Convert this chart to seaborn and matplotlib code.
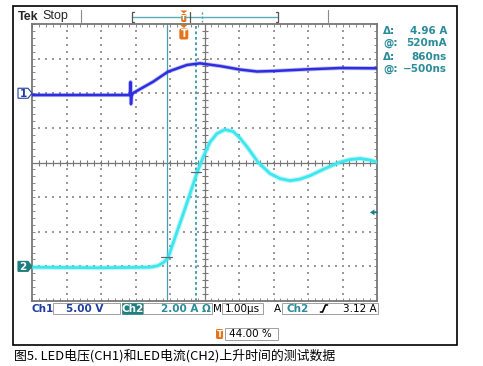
import numpy as np
import pandas as pd
import matplotlib
matplotlib.use("Agg")
import matplotlib.pyplot as plt
import seaborn as sns
from matplotlib.patches import Rectangle, Polygon, FancyBboxPatch

# ---------------- data ----------------
# CH1: LED voltage (V) vs time relative to trigger (us)
time_ch1_us = [-4.40, -1.56, -1.545, -1.53, -1.515, -1.47, -0.89, -0.46, 0.09,
               0.47, 1.05, 1.63, 2.12, 2.59, 3.57, 4.53, 5.60]
ch1_volts = [-0.26, -0.26, 1.62, -1.56, -0.40, 0.03, 1.66, 3.11, 4.08,
             4.32, 3.93, 3.42, 3.14, 3.21, 3.45, 3.64, 3.60]

# CH2: LED current (A) vs time relative to trigger (us)
time_ch2_us = [-4.40, -2.43, -0.98, -0.75, -0.60, -0.46, -0.26, 0.04, 0.38,
               0.56, 0.76, 0.96, 1.19, 1.43, 1.63, 1.86, 2.15, 2.50, 2.79,
               3.08, 3.37, 3.66, 4.09, 4.53, 4.82, 5.11, 5.40, 5.60]
ch2_amps = [-0.05, -0.08, -0.05, 0.04, 0.21, 0.47, 1.63, 3.36, 5.39,
            6.31, 7.18, 7.67, 7.90, 7.79, 7.41, 6.83, 6.02, 5.36, 5.07,
            4.95, 5.04, 5.24, 5.65, 6.02, 6.17, 6.23, 6.14, 6.02]

cursor_time_us = [-0.50, 0.36]
cursor_amps = [0.52, 5.48]
readout_labels = ["Δ:", "@:", "Δ:", "@:"]
readout_values = ["4.96 A", "520mA", "860ns", "−500ns"]

ch1_scale_v = 5.0      # V/div
ch1_position = 2.0     # div
ch2_scale_a = 2.0      # A/div
ch2_position = -3.0    # div
time_scale_us = 1.0    # us/div
trigger_position = 4.4 # div from left (44 %)
trigger_level_a = 3.12

status_ch1 = "5.00 V"
status_ch2 = "2.00 A Ω"
status_time = "1.00µs"
status_trig = "3.12 A"
status_pos = "44.00 %"
caption = "图5. LED电压(CH1)和LED电流(CH2)上升时间的测试数据"

# ---------------- styling ----------------
sns.set_theme(style="white")
plt.rcParams["font.family"] = ["DejaVu Sans", "Noto Sans CJK SC"]

BLUE = "#2e2ee0"
CYAN = "#3ee6ee"
TEAL = "#2a8c99"
TEALD = "#1f7f80"
CURS = "#45a0ae"
ORANGE = "#e8741a"
DBLUE = "#1f3fa0"
GRID = "#8a8a8a"

W, H = 483, 366
fig = plt.figure(figsize=(W / 100, H / 100), dpi=100)
fig.patch.set_facecolor("white")

L, R, T, B = 32, 377, 24, 301
ax = fig.add_axes([L / W, 1 - B / H, (R - L) / W, (B - T) / H])
ax.set_facecolor("white")

def tdiv(t):
    return np.asarray(t) / time_scale_us + trigger_position

def c1div(v):
    return np.asarray(v) / ch1_scale_v + ch1_position

def c2div(a):
    return np.asarray(a) / ch2_scale_a + ch2_position

# graticule
minor = np.arange(0.2, 10.0, 0.2)
minor_y = np.arange(-3.8, 4.0, 0.2)
for yl in [-3, -2, -1, 1, 2, 3]:
    ax.scatter(minor, np.full_like(minor, yl), s=0.8, marker="s", color="#9a9a9a", linewidths=0, zorder=1)
for xl in [1, 2, 3, 4, 6, 7, 8, 9]:
    ax.scatter(np.full_like(minor_y, xl), minor_y, s=0.8, marker="s", color="#9a9a9a", linewidths=0, zorder=1)
ax.axhline(0, color="#777777", lw=0.9, zorder=1)
ax.axvline(5, color="#777777", lw=0.9, zorder=1)
ax.plot(minor, np.zeros_like(minor), ls="none", marker="|", ms=4.5, mew=0.8, color="#777777", zorder=1)
ax.plot(np.full_like(minor_y, 5), minor_y, ls="none", marker="_", ms=4.5, mew=0.8, color="#777777", zorder=1)

# cursors
cx = tdiv(cursor_time_us)
cy = c2div(cursor_amps)
ax.axvline(cx[0], color=CURS, lw=0.9, zorder=2)
ax.axvline(cx[1], color=CURS, lw=1.4, ls=(0, (1.4, 1.4)), zorder=2)

# traces
df1 = pd.DataFrame({"x": tdiv(time_ch1_us), "y": c1div(ch1_volts)})
df2 = pd.DataFrame({"x": tdiv(time_ch2_us), "y": c2div(ch2_amps)})
sns.lineplot(data=df2, x="x", y="y", ax=ax, color=CYAN, lw=3.6, alpha=0.35, estimator=None, sort=False, zorder=3)
sns.lineplot(data=df2, x="x", y="y", ax=ax, color=CYAN, lw=2.0, estimator=None, sort=False, zorder=4)
sns.lineplot(data=df1, x="x", y="y", ax=ax, color=BLUE, lw=3.0, alpha=0.3, estimator=None, sort=False, zorder=3)
sns.lineplot(data=df1, x="x", y="y", ax=ax, color=BLUE, lw=1.8, estimator=None, sort=False, zorder=4)

for xx, yy in zip(cx, cy):
    ax.plot([xx - 0.15, xx + 0.15], [yy, yy], color="#5a6a70", lw=0.9, zorder=5)

ax.set_xlim(0, 10)
ax.set_ylim(-4, 4)
ax.set_xlabel("")
ax.set_ylabel("")
ax.set_xticks(np.arange(0, 10.01, 0.2))
ax.set_yticks(np.arange(-4, 4.01, 0.2))
ax.tick_params(direction="in", length=2.3, width=0.7, color=GRID, top=True, right=True,
               bottom=True, left=True, labelbottom=False, labelleft=False)
for s in ax.spines.values():
    s.set_color("#777777")
    s.set_linewidth(1.3)

# ---------------- overlay (screen annotations) ----------------
ov = fig.add_axes([0, 0, 1, 1], zorder=5)
ov.set_xlim(0, W)
ov.set_ylim(H, 0)
ov.axis("off")
ov.patch.set_alpha(0)

def px_x(d):
    return L + d * (R - L) / 10.0

def px_y(d):
    return (T + B) / 2 - d * (B - T) / 8.0

ov.add_patch(Rectangle((13, 6), 444, 339, fill=False, ec="black", lw=1.2))

# header
ov.text(18, 16.5, "Tek", fontsize=9, fontweight="bold", family="Liberation Sans", va="center", ha="left")
ov.text(42, 16, "Stop", fontsize=9, family="Liberation Sans", va="center", ha="left")
ov.plot([81, 81], [10, 22], color="#888888", lw=0.8)
ov.plot([328, 328], [10, 22], color="#888888", lw=0.8)
ov.plot([133, 277], [17, 17], color="#5aacb8", lw=1.0)
ov.plot([134, 132, 132, 134], [12, 12, 22, 22], color="#555555", lw=0.9)
ov.plot([276, 278, 278, 276], [12, 12, 22, 22], color="#555555", lw=0.9)
ov.plot([189.5, 189.5], [12, 22], color="#555555", lw=0.9)
ov.plot([202, 202], [12, 22], color=CURS, lw=1.0, ls=(0, (1.5, 1.5)))
tpx = px_x(trigger_position)
ov.add_patch(Polygon([[tpx - 3.5, 10.5], [tpx + 3.5, 10.5], [tpx, 13.5]], closed=True, color=ORANGE, lw=0))
ov.add_patch(FancyBboxPatch((tpx - 2.6, 14), 5.2, 8, boxstyle="round,pad=0,rounding_size=1.5", color=ORANGE, lw=0))
ov.text(tpx, 18.3, "T", fontsize=5, color="white", fontweight="bold", ha="center", va="center")

# trigger marker on the graticule
ov.add_patch(Polygon([[tpx - 3.5, 25], [tpx + 3.5, 25], [tpx, 28]], closed=True, color=ORANGE, lw=0))
ov.add_patch(FancyBboxPatch((tpx - 4.5, 28.5), 9, 11, boxstyle="round,pad=0,rounding_size=2", color=ORANGE, lw=0))
ov.text(tpx, 34.3, "T", fontsize=7, color="white", fontweight="bold", ha="center", va="center")

# readouts
for i, (lab, val) in enumerate(zip(readout_labels, readout_values)):
    yy = [31, 42.5, 56.5, 68.5][i]
    ov.text(383, yy, lab, fontsize=7.5, color=TEAL, fontweight="semibold", ha="left", va="center")
    ov.text(447, yy, val, fontsize=7.5, color=TEAL, fontweight="semibold", ha="right", va="center")

# channel ground markers
for d, filled in [(ch1_position, False), (ch2_position, True)]:
    yy = px_y(d)
    pts = [[18, yy - 5], [28, yy - 5], [32, yy], [28, yy + 5], [18, yy + 5]]
    if filled:
        ov.add_patch(Polygon(pts, closed=True, fc=TEALD, ec=TEALD, lw=0.8))
        ov.text(23, yy + 0.3, "2", fontsize=7.5, color="white", fontweight="bold", ha="center", va="center")
    else:
        ov.add_patch(Polygon(pts, closed=True, fc="white", ec=DBLUE, lw=0.8))
        ov.text(23, yy + 0.3, "1", fontsize=7.5, color=DBLUE, fontweight="bold", ha="center", va="center")

# trigger level arrow
ty = px_y(c2div(trigger_level_a))
ov.add_patch(Polygon([[370, ty], [374.5, ty - 3], [374.5, ty + 3]], closed=True, color=TEALD, lw=0))
ov.plot([374, 377], [ty, ty], color=TEALD, lw=1.0)

# status bar
sy = 308.5
box_kw = dict(fill=False, ec="#a0a0a0", lw=0.7)
ov.text(32, sy, "Ch1", fontsize=7.5, color=DBLUE, fontweight="bold", ha="left", va="center")
ov.add_patch(Rectangle((53, 303), 67, 11, **box_kw))
ov.text(84.5, sy, status_ch1, fontsize=7.5, color=DBLUE, fontweight="bold", ha="center", va="center")
ov.add_patch(Rectangle((122, 303), 21, 11, fc=TEALD, ec=TEALD, lw=0.5))
ov.text(132.5, sy, "Ch2", fontsize=7.5, color="white", fontweight="bold", ha="center", va="center")
ov.add_patch(Rectangle((143, 303), 69, 11, **box_kw))
ov.text(186, sy, status_ch2, fontsize=7.5, color=TEAL, fontweight="bold", ha="center", va="center")
ov.text(217, sy, "M", fontsize=7.5, color="black", ha="center", va="center")
ov.add_patch(Rectangle((222, 303), 41, 11, **box_kw))
ov.text(242.5, sy, status_time, fontsize=7.5, color="black", ha="center", va="center")
ov.text(277, sy, "A", fontsize=7.5, color="black", ha="center", va="center")
ov.add_patch(Rectangle((282, 303), 96, 11, **box_kw))
ov.text(298, sy, "Ch2", fontsize=7.5, color=TEAL, fontweight="bold", ha="center", va="center")
ov.plot([320.5, 322.5, 325.5, 327.5], [312, 312, 305, 305], color="black", lw=1.2)
ov.text(377, sy, status_trig, fontsize=7.5, color="black", ha="right", va="center")

ov.add_patch(FancyBboxPatch((216, 329), 7, 10, boxstyle="round,pad=0,rounding_size=1.5", color=ORANGE, lw=0))
ov.text(219.5, 334.3, "T", fontsize=6, color="white", fontweight="bold", ha="center", va="center")
ov.add_patch(Rectangle((225, 328), 53, 12, **box_kw))
ov.text(229, 334.3, status_pos, fontsize=7.5, color="black", ha="left", va="center")

# caption
ov.text(14, 355.5, caption, fontsize=9.3, style="italic", color="black",
        family=["Noto Sans CJK SC", "DejaVu Sans"], ha="left", va="center")

fig.savefig("out.png", dpi=100, facecolor="white")
